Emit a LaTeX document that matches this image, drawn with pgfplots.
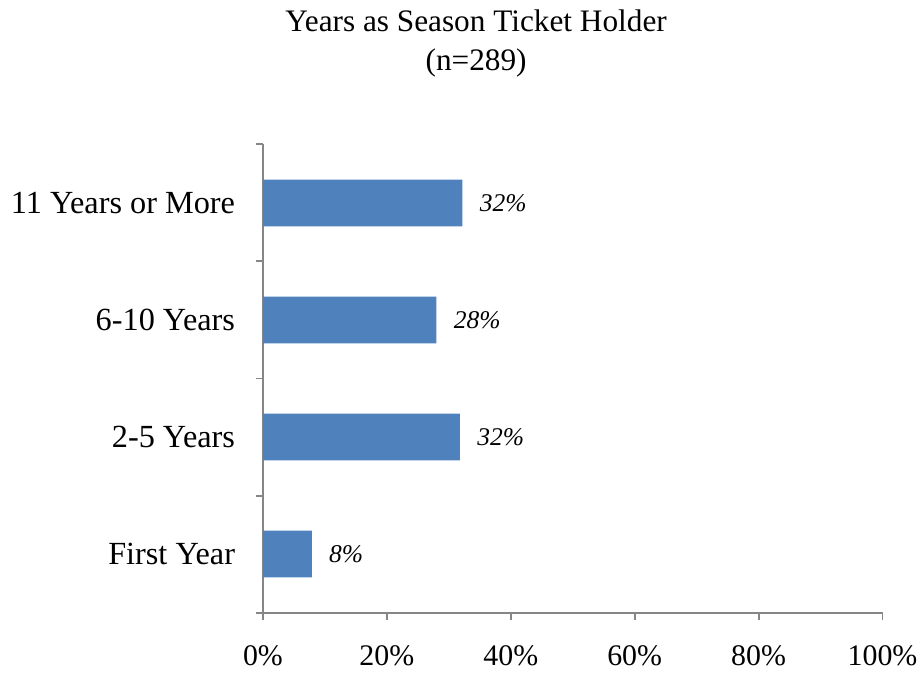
\documentclass[border=0pt]{standalone}
\usepackage{pgfplots}
\pgfplotsset{compat=1.18}
\usetikzlibrary{calc}
\usepackage{fontspec}
\setmainfont{Liberation Serif}
\definecolor{barblue}{HTML}{4F81BD}
\definecolor{axgray}{HTML}{868686}
\begin{document}
\begin{tikzpicture}
\begin{axis}[
  name=ax,
  scale only axis,
  width=311pt, height=235pt,
  xbar, bar width=23.5pt,
  xmin=0, xmax=100,
  ymin=-0.5, ymax=3.5,
  axis x line*=bottom, axis y line*=left,
  axis line style={draw=axgray, line width=1pt, -},
  every tick/.style={draw=axgray, line width=1pt},
  tick align=outside,
  xtick={0,20,...,100},
  major tick length=3.5pt,
  xticklabel={\pgfmathprintnumber{\tick}\%},
  /pgf/number format/assume math mode=true,
  xticklabel style={font=\fontsize{15}{18}\selectfont, yshift=-9.5pt},
  ytick={0,1,2,3},
  yticklabels={First Year, 2-5 Years, 6-10 Years, 11 Years or More},
  major y tick style={draw=none},
  yticklabel style={font=\fontsize{16.2}{19}\selectfont, xshift=-7pt},
  minor ytick={-0.5,0.5,1.5,2.5,3.5},
  minor tick length=3.5pt,
  minor y tick style={draw=axgray, line width=1pt},
  nodes near coords={\pgfmathprintnumber[fixed,precision=0]{\pgfplotspointmeta}\%},
  point meta=x,
  every node near coord/.append style={font=\itshape\fontsize{12.8}{15}\selectfont, inner sep=0pt, xshift=8.5pt, anchor=west, text=black},
  clip=false,
]
\addplot[fill=barblue, draw=none] coordinates {
  (7.9,0)
  (31.8,1)
  (28.0,2)
  (32.2,3)
};
\end{axis}
\node[font=\fontsize{15.7}{19.5}\selectfont, align=center, anchor=center] at ($(ax.south west)+(107pt,285.5pt)$) {Years as Season Ticket Holder\\(n=289)};
\path[use as bounding box] ($(ax.south west)+(-132pt,-27.5pt)$) rectangle ($(ax.north east)+(19pt,72.5pt)$);
\end{tikzpicture}
\end{document}
